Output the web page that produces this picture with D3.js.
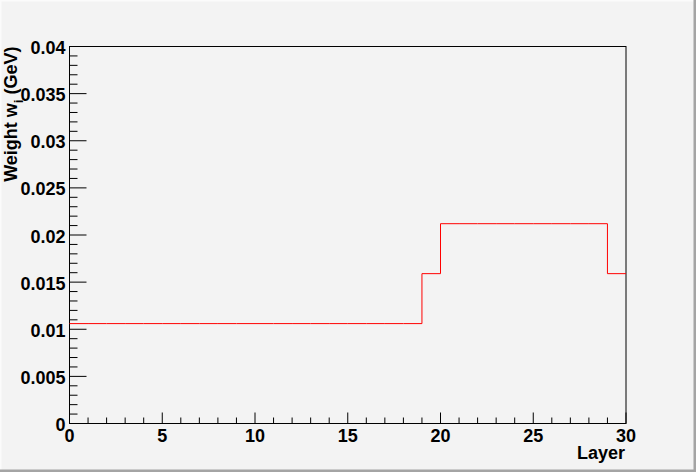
<!DOCTYPE html>
<html>
<head>
<meta charset="utf-8">
<script src="https://cdn.jsdelivr.net/npm/d3@7"></script>
<style>
  html, body { margin: 0; padding: 0; background: #f3f3f3; }
  svg { display: block; }
  text { font-family: "Liberation Sans", Arial, sans-serif; font-weight: bold; fill: #000; }
</style>
</head>
<body>
<div id="chart"></div>
<script>
// Histogram contents: one weight per layer bin
const layerEdges = d3.range(0, 31);
const weights = [
  0.0106, 0.0106, 0.0106, 0.0106, 0.0106, 0.0106, 0.0106, 0.0106, 0.0106, 0.0106,
  0.0106, 0.0106, 0.0106, 0.0106, 0.0106, 0.0106, 0.0106, 0.0106, 0.0106, 0.0159,
  0.0212, 0.0212, 0.0212, 0.0212, 0.0212, 0.0212, 0.0212, 0.0212, 0.0212, 0.0159
];
const xTicks = [0, 5, 10, 15, 20, 25, 30];
const yTicks = [0, 0.005, 0.01, 0.015, 0.02, 0.025, 0.03, 0.035, 0.04];

const W = 696, H = 472;
const margin = { top: 46.5, right: 70, bottom: 48.5, left: 69.5 };
const width = W - margin.left - margin.right,
      height = H - margin.top - margin.bottom;

const svg = d3.select('#chart').append('svg')
  .attr('width', W)
  .attr('height', H);

// canvas background with bevelled border
svg.append('rect').attr('width', W).attr('height', H).attr('fill', '#f3f3f3');
svg.append('path').attr('d', `M0,${H} V0 H${W}`).attr('fill', 'none')
  .attr('stroke', '#fbfbfb').attr('stroke-width', 3);
svg.append('path').attr('d', `M${W - 1},0 V${H - 1} H0`).attr('fill', 'none')
  .attr('stroke', '#a4a4a4').attr('stroke-width', 3);

const g = svg.append('g').attr('transform', `translate(${margin.left},${margin.top})`);

const x = d3.scaleLinear().domain([0, 30]).range([0, width]);
const y = d3.scaleLinear().domain([0, 0.04]).range([height, 0]);

// frame
g.append('rect').attr('width', width).attr('height', height)
  .attr('fill', 'none').attr('stroke', '#000').attr('stroke-width', 1);

// x axis ticks (minor every layer, major every 5)
g.append('g').selectAll('line')
  .data(d3.range(0, 31))
  .join('line')
  .attr('x1', d => x(d)).attr('x2', d => x(d))
  .attr('y1', height).attr('y2', d => height - (d % 5 === 0 ? 11 : 6))
  .attr('stroke', '#000');

g.append('g').selectAll('text')
  .data(xTicks)
  .join('text')
  .attr('x', d => x(d))
  .attr('y', height + 18.5)
  .attr('text-anchor', 'middle')
  .attr('font-size', 18)
  .text(d => d);

// y axis ticks (minor every 0.001, major every 0.005)
g.append('g').selectAll('line')
  .data(d3.range(0, 41))
  .join('line')
  .attr('x1', 0)
  .attr('x2', d => (d % 5 === 0 ? 17 : 8))
  .attr('y1', d => y(d / 1000)).attr('y2', d => y(d / 1000))
  .attr('stroke', '#000');

g.append('g').selectAll('text')
  .data(yTicks)
  .join('text')
  .attr('x', -4)
  .attr('y', d => y(d) + 7.5)
  .attr('text-anchor', 'end')
  .attr('font-size', 18)
  .text(d => d3.format('~g')(d));

// histogram step line
const stepPoints = [];
weights.forEach((w, i) => {
  stepPoints.push([layerEdges[i], w], [layerEdges[i + 1], w]);
});
g.append('path')
  .datum(stepPoints)
  .attr('fill', 'none')
  .attr('stroke', '#ff0000')
  .attr('stroke-width', 1)
  .attr('d', d3.line().x(d => x(d[0])).y(d => y(d[1])));

// axis titles
g.append('text')
  .attr('x', width - 1)
  .attr('y', height + 35)
  .attr('text-anchor', 'end')
  .attr('font-size', 18)
  .text('Layer');

const yTitle = svg.append('text')
  .attr('transform', `translate(17,${margin.top}) rotate(-90)`)
  .attr('text-anchor', 'end')
  .attr('font-size', 18);
yTitle.append('tspan').text('Weight w');
yTitle.append('tspan').attr('font-size', 13).attr('dy', 6).text('i');
yTitle.append('tspan').attr('dy', -6).text(' (GeV)');
</script>
</body>
</html>
